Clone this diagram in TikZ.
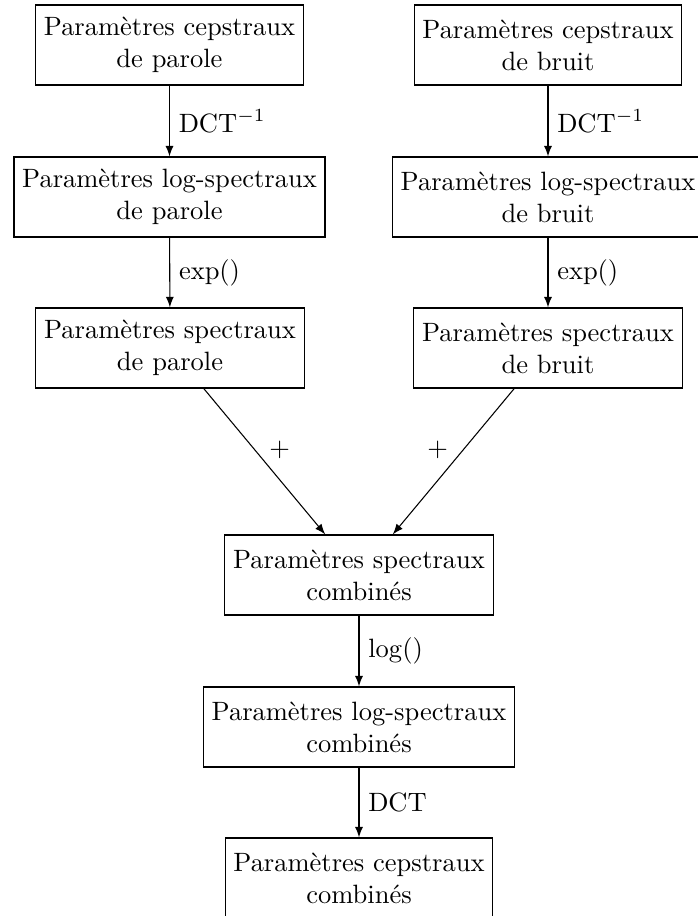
\documentclass[tikz,border=0pt]{standalone}
\usetikzlibrary{arrows}
\begin{document}
\begin{tikzpicture}[x=0.37736pt,y=-0.37736pt,
  box/.style={draw,align=center,minimum height=30.2pt,inner xsep=3.1pt,line width=0.4pt},
  conn/.style={-latex,line width=0.4pt},
  lab/.style={right,inner sep=3.3pt}]
\path[use as bounding box] (0,0) rectangle (698,916);
\clip (0,0) rectangle (698,916);
\node[box] (b1) at (169.5,45) {Paramètres cepstraux\\de parole};
\node[box] (b2) at (169.5,197) {Paramètres log-spectraux\\de parole};
\node[box] (b3) at (170,348) {Paramètres spectraux\\de parole};
\node[box] (r1) at (548,45) {Paramètres cepstraux\\de bruit};
\node[box] (r2) at (548,197) {Paramètres log-spectraux\\de bruit};
\node[box] (r3) at (548,348) {Paramètres spectraux\\de bruit};
\node[box] (c1) at (359,575) {Paramètres spectraux\\combinés};
\node[box] (c2) at (359,727) {Paramètres log-spectraux\\combinés};
\node[box] (c3) at (359,878) {Paramètres cepstraux\\combinés};
\draw[conn] (b1) -- node[lab] {$\mathrm{DCT}^{-1}$} (b2);
\draw[conn] (b2) -- node[lab] {$\exp()$} (b3);
\draw[conn] (r1) -- node[lab] {$\mathrm{DCT}^{-1}$} (r2);
\draw[conn] (r2) -- node[lab] {$\exp()$} (r3);
\draw[conn] (b3) -- node[pos=0.5,xshift=5.7pt,yshift=4.5pt] {$+$} (c1);
\draw[conn] (r3) -- node[pos=0.5,xshift=-6pt,yshift=4.5pt] {$+$} (c1);
\draw[conn] (c1) -- node[lab] {$\log()$} (c2);
\draw[conn] (c2) -- node[lab] {$\mathrm{DCT}$} (c3);
\end{tikzpicture}
\end{document}
